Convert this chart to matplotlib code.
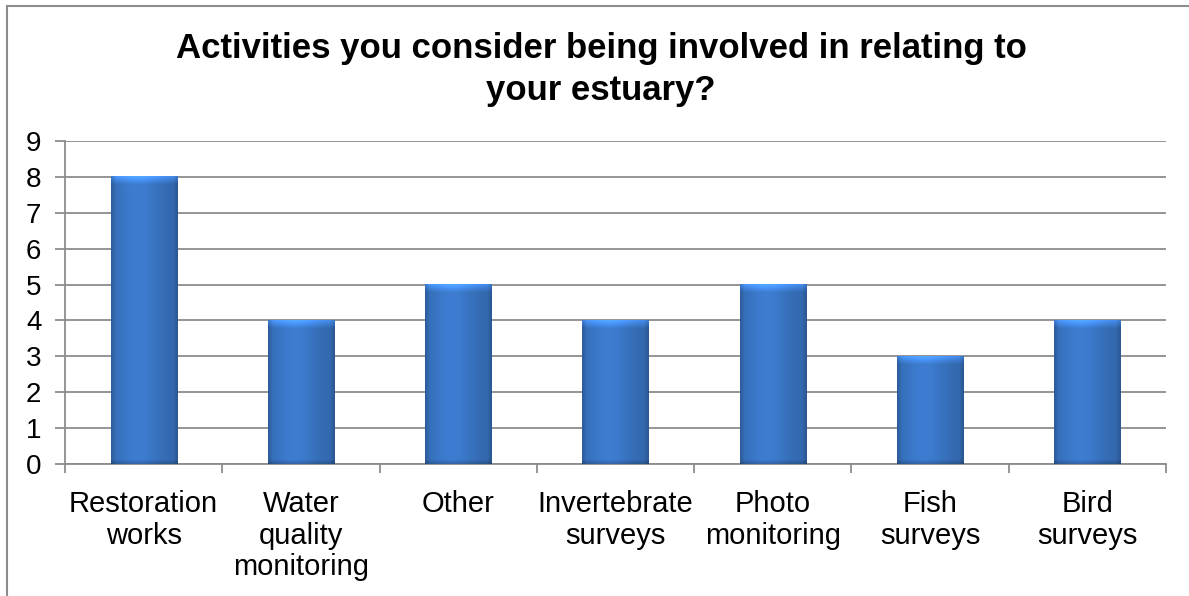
import numpy as np
import matplotlib.pyplot as plt
from matplotlib.patches import Rectangle

plt.rcParams['font.family'] = ['Liberation Sans', 'DejaVu Sans']

categories = ["Restoration\nworks", "Water\nquality\nmonitoring", "Other",
              "Invertebrate\nsurveys", "Photo\nmonitoring", "Fish\nsurveys", "Bird\nsurveys"]
counts = [8, 4, 5, 4, 5, 3, 4]
y_ticks = list(range(0, 10))

title = "Activities you consider being involved in relating to\nyour estuary?"
grid_color = "#8c8c8c"


def bar_image(height, rows_per_unit=60, cols=64):
    # horizontal shading: dark rims, lighter band left of centre
    t = np.linspace(0, 1, cols)
    shade = 0.82 + 0.18 * np.exp(-((t - 0.4) / 0.35) ** 2)
    rim = np.minimum(t, 1 - t)
    shade *= 0.85 + 0.15 * np.clip(rim / 0.07, 0, 1)
    base = np.array([0.24, 0.49, 0.82])
    n = max(int(height * rows_per_unit), 2)
    img = np.ones((n, cols, 3)) * base * shade[None, :, None]
    # bevel at the top, darker strip at the bottom (row 0 is top)
    y = np.linspace(height, 0, n)
    top = np.clip((y - (height - 0.22)) / 0.22, 0, 1)
    bottom = np.clip((0.12 - y) / 0.12, 0, 1)
    img = img * (1 + 0.35 * top[:, None, None]) * (1 - 0.2 * bottom[:, None, None])
    return np.clip(img, 0, 1)


fig = plt.figure(figsize=(11.89, 5.96), dpi=100)
ax = fig.add_axes([65 / 1189, 1 - 464 / 596, (1166 - 65) / 1189, (464 - 141) / 596])

x = np.arange(len(categories))
width = 0.42
bars = ax.bar(x, counts, width=width, color="#3f7ed0", zorder=2)
for rect, val in zip(bars, counts):
    x0 = rect.get_x()
    ax.imshow(bar_image(val), extent=(x0, x0 + width, 0, val), aspect='auto',
              interpolation='bilinear', zorder=3)

ax.set_xlim(-0.5, len(categories) - 0.5)
ax.set_ylim(0, 9)
ax.set_yticks(y_ticks)
ax.yaxis.grid(True, color=grid_color, linewidth=1.3, zorder=0)
ax.set_axisbelow(True)

ax.set_xticks(x)
ax.set_xticklabels(categories, fontsize=21, linespacing=1.15)
ax.set_xticks(np.arange(len(categories) + 1) - 0.5, minor=True)
ax.tick_params(axis='x', which='major', length=0, pad=19)
ax.tick_params(axis='x', which='minor', length=6.5, width=1.3, color=grid_color)
ax.tick_params(axis='y', length=7, width=1.3, color=grid_color, pad=10, labelsize=20)

for side in ("top", "right"):
    ax.spines[side].set_visible(False)
for side in ("left", "bottom"):
    ax.spines[side].set_color(grid_color)
    ax.spines[side].set_linewidth(1.3)

fig.text(601 / 1189, 1 - 32 / 596, title, ha='center', va='top', fontsize=25,
         fontweight='bold', linespacing=1.33)

# chart area outline
fig.patches.append(Rectangle((7 / 1189, -0.1), 1.2, 1 - 6 / 596 + 0.1, transform=fig.transFigure,
                             fill=False, edgecolor=grid_color, linewidth=1.5))

fig.savefig("out.png", dpi=100)
